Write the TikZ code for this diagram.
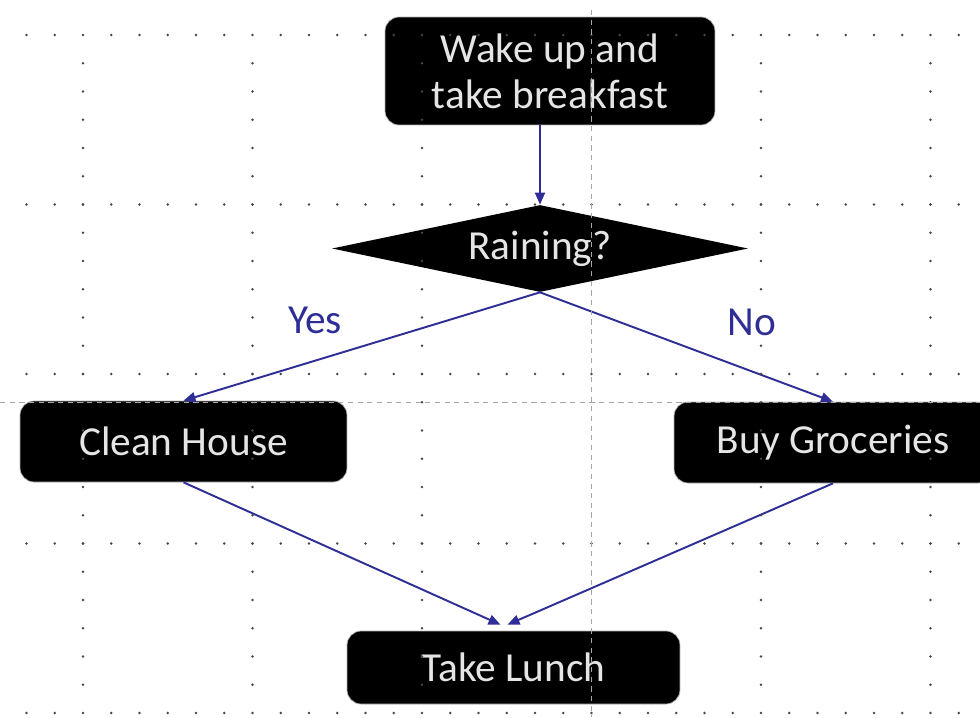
\documentclass[tikz,border=0pt]{standalone}
\usepackage{fontspec}
\setmainfont{Carlito}
\usetikzlibrary{shapes.geometric,arrows.meta}

\definecolor{linkblue}{RGB}{46,46,150}
\definecolor{dotgray}{RGB}{70,70,70}
\newcommand{\boxfont}{\fontsize{23.5}{26}\selectfont}

\tikzset{
    stepbox/.style={draw=gray!60, fill=black, text=white!90!black, rounded corners=0.28cm,
        inner sep=0pt, align=center, font=\boxfont},
    decision/.style={diamond, aspect=4.8, fill=black, text=white!90!black, inner sep=0pt,
        minimum width=8.32cm, minimum height=1.74cm, font=\boxfont},
    flow/.style={draw=linkblue, line width=1.1pt, -{Triangle[length=0.24cm,width=0.2cm]}},
    lbl/.style={text=linkblue, inner sep=0pt, font=\boxfont},
    guide/.style={draw=gray!70, line width=0.5pt, dash pattern=on 3pt off 2.5pt}
}

\begin{document}
\begin{tikzpicture}[x=0.02cm,y=-0.02cm]
        \useasboundingbox (0,0) rectangle (980,717);
        \clip (0,0) rectangle (980,717);
        %% steps
        \node[stepbox, minimum width=6.6cm, minimum height=2.16cm] (wake) at (550,71) {Wake up and\\take breakfast};
        \node[decision] (rain) at (540,248.5) {Raining?};
        \node[stepbox, minimum width=6.54cm, minimum height=1.62cm] (clean) at (183.5,441.5) {Clean House};
        \node[stepbox, minimum width=6.36cm, minimum height=1.62cm] (shop) at (833,442.5) {Buy Groceries};
        \node[stepbox, minimum width=6.66cm, minimum height=1.46cm] (lunch) at (513.5,667.5) {Take Lunch};
        %% arrows
        \draw[flow] (wake.south -| rain.north) -- (rain.north);
        \draw[flow] (rain.south) -- (clean.north);
        \draw[flow] (rain.south) -- (shop.north);
        \draw[flow] (clean.south) -- ([xshift=-0.26cm,yshift=0.12cm]lunch.north);
        \draw[flow] (shop.south) -- ([xshift=-0.12cm,yshift=0.12cm]lunch.north);
        \node[lbl] (yes) at (315,320) {Yes};
        \node[lbl] (no) at (752,322) {No};
        %% dotted grid
        \foreach \gy in {35,204.5,374,543.5,713}
            \foreach \k in {0,...,33} {
                \fill[dotgray] ({26.5+28.25*\k},\gy) circle[radius=0.026cm];
            }
        \foreach \gx in {83,252.5,422,761,930.5}
            \foreach \k in {1,...,23} {
                \fill[dotgray] (\gx,{35+28.25*\k}) circle[radius=0.026cm];
            }
        %% guides
        \draw[guide] (0,402) -- (980,402);
        \draw[guide] (591.5,10) -- (591.5,717);
    \end{tikzpicture}
\end{document}
